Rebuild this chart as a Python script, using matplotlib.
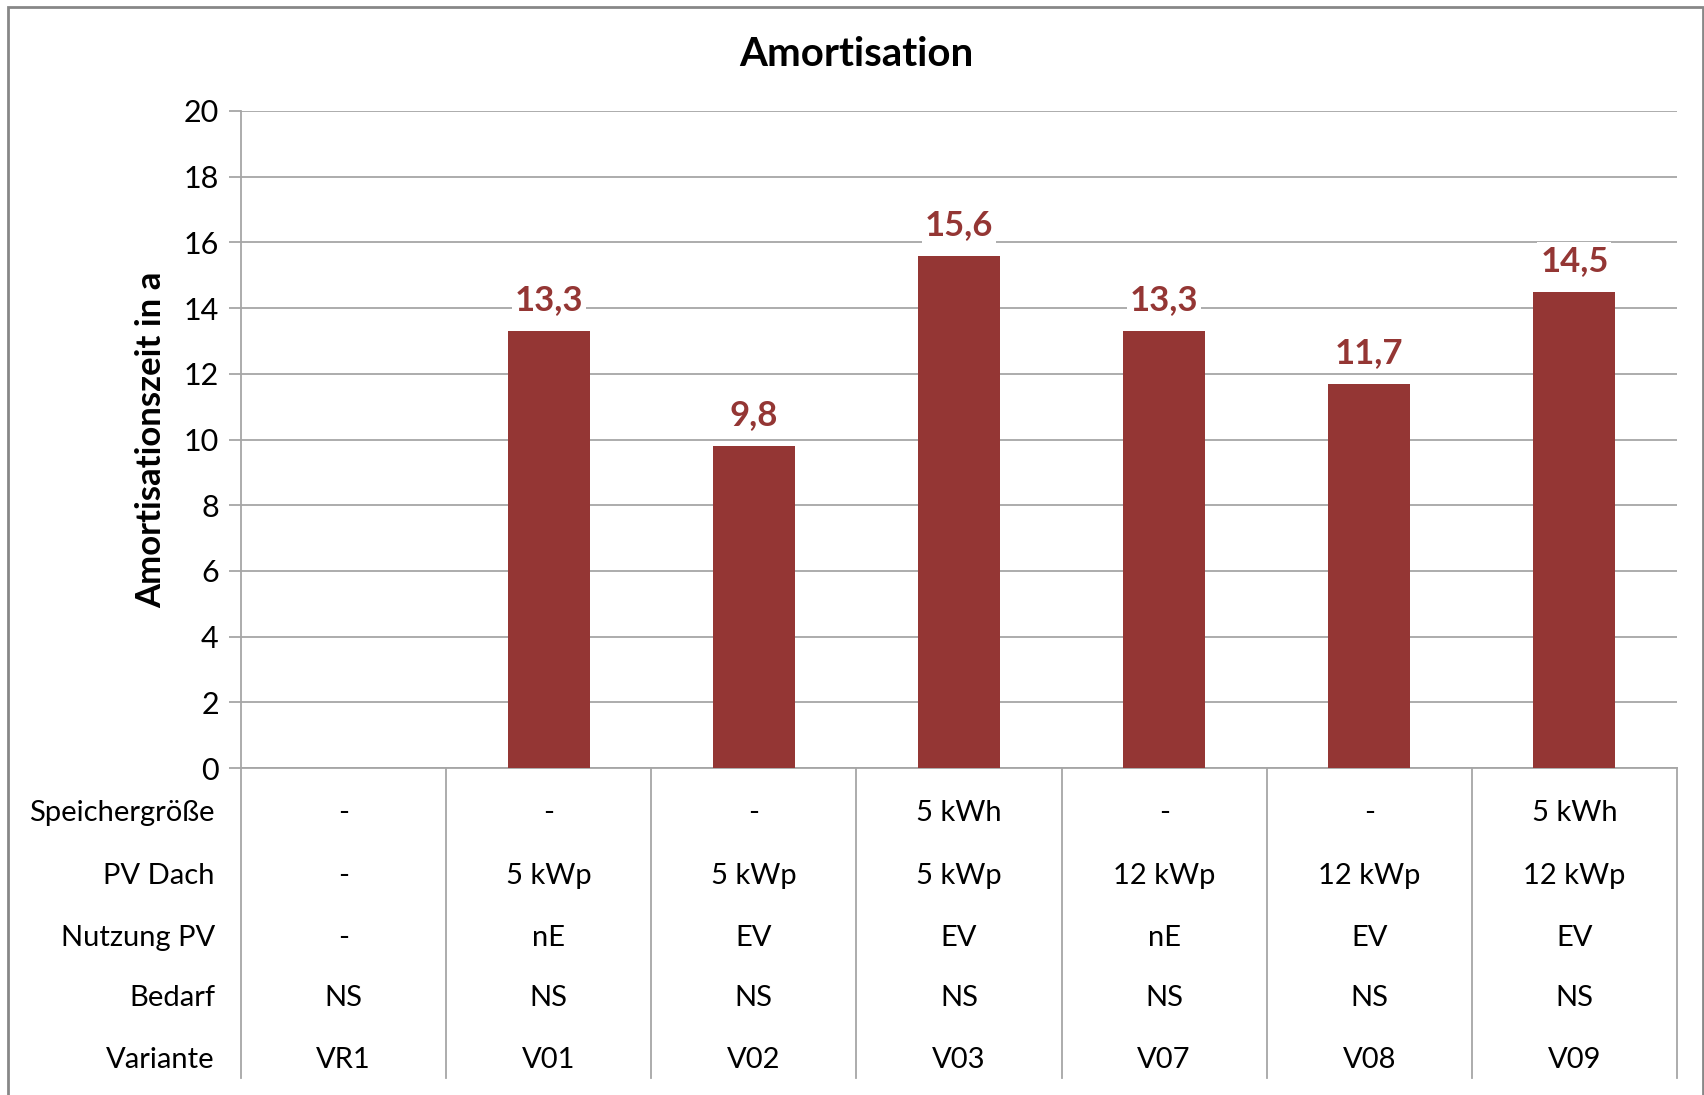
import matplotlib.pyplot as plt
import matplotlib.transforms as mtransforms
from matplotlib.patches import Rectangle

plt.rcParams['font.family'] = ['Lato', 'DejaVu Sans']

varianten = ["VR1", "V01", "V02", "V03", "V07", "V08", "V09"]
amortisation = [None, 13.3, 9.8, 15.6, 13.3, 11.7, 14.5]
speicher = ["-", "-", "-", "5 kWh", "-", "-", "5 kWh"]
pv_dach = ["-", "5 kWp", "5 kWp", "5 kWp", "12 kWp", "12 kWp", "12 kWp"]
nutzung = ["-", "nE", "EV", "EV", "nE", "EV", "EV"]
bedarf = ["NS", "NS", "NS", "NS", "NS", "NS", "NS"]

rows = [("Speichergröße", speicher), ("PV Dach", pv_dach),
        ("Nutzung PV", nutzung), ("Bedarf", bedarf), ("Variante", varianten)]

W, H = 1704, 1095
bar_color = "#943634"
grid_color = "#a6a6a6"

fig = plt.figure(figsize=(W / 100, H / 100), dpi=100)
ax = fig.add_axes([241 / W, 1 - 768 / H, (1677 - 241) / W, (768 - 111) / H])

x = list(range(len(varianten)))
heights = [v if v is not None else 0 for v in amortisation]
ax.bar(x, heights, width=0.4, color=bar_color, zorder=3)

ax.set_xlim(-0.5, len(varianten) - 0.5)
ax.set_ylim(0, 20)
ax.set_yticks(range(0, 21, 2))
ax.set_xticks([])
ax.yaxis.grid(True, color=grid_color, linewidth=1.3)
ax.set_axisbelow(True)
for s in ["top", "right"]:
    ax.spines[s].set_visible(False)
for s in ["left", "bottom"]:
    ax.spines[s].set_color(grid_color)
    ax.spines[s].set_linewidth(1.3)
ax.tick_params(axis="y", length=9, width=1.3, color=grid_color,
               labelsize=22, pad=7)

ax.set_ylabel("Amortisationszeit in a", fontsize=25, fontweight="bold",
              labelpad=12)
fig.text(856 / W, 1 - 54 / H, "Amortisation", ha="center", va="center",
         fontsize=29, fontweight="bold")

# value labels above the bars
for xi, v in zip(x, amortisation):
    if v is None:
        continue
    ax.annotate(f"{v:.1f}".replace(".", ","), (xi, v), xytext=(0, 22),
                textcoords="offset points", ha="center", va="center",
                fontsize=25, fontweight="bold", color=bar_color, zorder=4,
                bbox=dict(facecolor="white", edgecolor="none", pad=2))

# data table under the axis
trans = mtransforms.blended_transform_factory(ax.transData, fig.transFigure)
row_y = [813, 876, 938, 998, 1060]
for (name, vals), yp in zip(rows, row_y):
    yf = 1 - yp / H
    fig.text(215 / W, yf, name, ha="right", va="center", fontsize=21)
    for xi, v in zip(x, vals):
        ax.text(xi, yf, v, transform=trans, ha="center", va="center",
                fontsize=21, clip_on=False)

for xb in [i - 0.5 for i in range(len(varianten) + 1)]:
    ax.plot([xb, xb], [1 - 768 / H, 1 - 1078 / H], transform=trans,
            color=grid_color, linewidth=1.3, clip_on=False)

# chart frame
fig.patches.append(Rectangle((8 / W, -0.05), (1703 - 8) / W, 1.05 - 7 / H,
                             transform=fig.transFigure, fill=False,
                             edgecolor="#878787", linewidth=2))

fig.savefig("out.png", dpi=100)
